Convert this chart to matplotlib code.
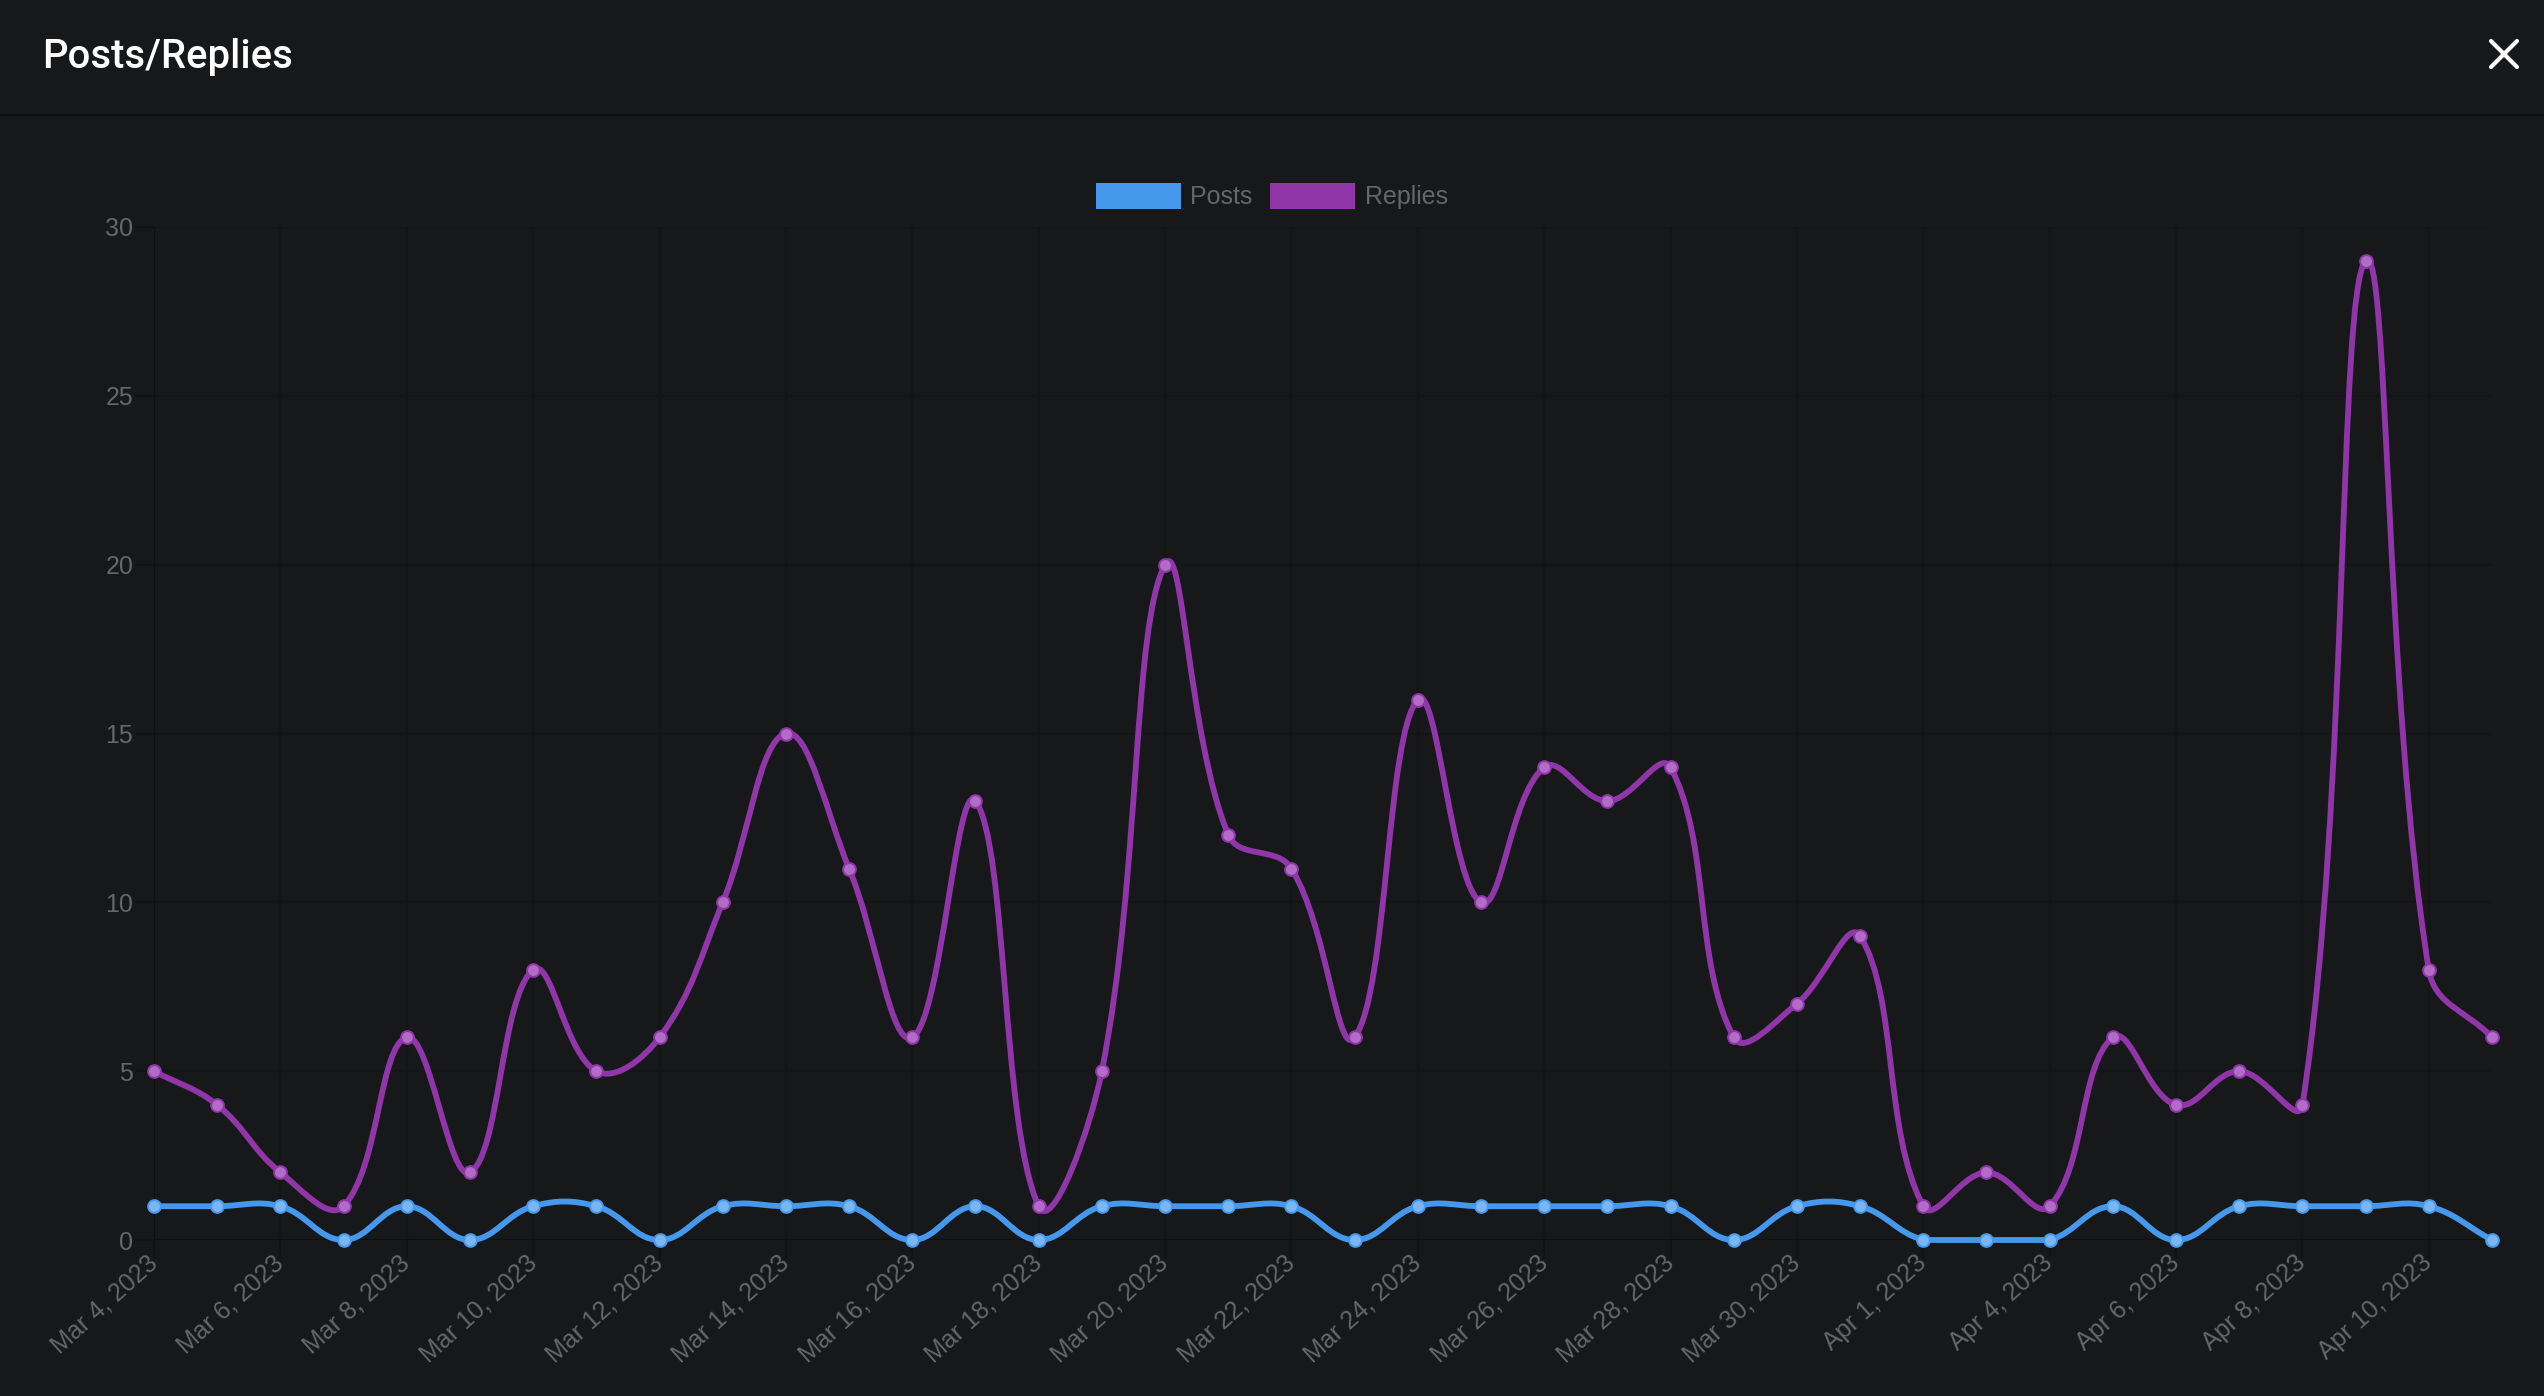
import numpy as np
import matplotlib
matplotlib.use("Agg")
import matplotlib.pyplot as plt
from matplotlib.path import Path
from matplotlib.patches import PathPatch, Patch
from matplotlib.lines import Line2D

# Category labels (one per day, Chart.js category axis)
dates = ([f"Mar {d}, 2023" for d in range(4, 32)]
         + ["Apr 1, 2023", "Apr 3, 2023"]
         + [f"Apr {d}, 2023" for d in range(4, 12)])

posts = [1, 1, 1, 0, 1, 0, 1, 1, 0, 1, 1, 1, 0, 1, 0, 1, 1, 1, 1, 0,
         1, 1, 1, 1, 1, 0, 1, 1, 0, 0, 0, 1, 0, 1, 1, 1, 1, 0]
replies = [5, 4, 2, 1, 6, 2, 8, 5, 6, 10, 15, 11, 6, 13, 1, 5, 20, 12, 11, 6,
           16, 10, 14, 13, 14, 6, 7, 9, 1, 2, 1, 6, 4, 5, 4, 29, 8, 6]

y_ticks = [0, 5, 10, 15, 20, 25, 30]

BG = "#17181a"
GRID = "#141517"
AXIS = "#0e0f11"
TICK = "#666666"
POSTS_C = "#4598ec"
POSTS_PT = "#7ab6f4"
REPLIES_C = "#9036a9"
REPLIES_PT = "#b26cc8"

W, H = 2544, 1396
fig = plt.figure(figsize=(W / 100, H / 100), dpi=100, facecolor=BG)

# plot area in pixels
left, right, top, bottom = 154, 2492, 227, 1240
ax = fig.add_axes([left / W, 1 - bottom / H, (right - left) / W, (bottom - top) / H])
ax.set_facecolor(BG)
n = len(dates)
ax.set_xlim(0, n - 1)
ax.set_ylim(0, 30)

for s in ax.spines.values():
    s.set_visible(False)

# grid (only at shown labels, as chart.js autoskip does)
shown = list(range(0, n, 2))
for i in shown[1:]:
    ax.axvline(i, color=GRID, lw=1.5, zorder=0)
for yv in y_ticks[1:]:
    ax.axhline(yv, color=GRID, lw=1.5, zorder=0)
ax.axvline(0, color=AXIS, lw=1.5, zorder=0)
ax.axhline(0, color=AXIS, lw=1.5, zorder=0)

ax.set_xticks(shown)
ax.set_xticklabels([dates[i] for i in shown])
ax.set_yticks(y_ticks)
ax.set_yticklabels([str(v) for v in y_ticks])
ax.tick_params(axis="both", colors="#111214", labelcolor=TICK, labelsize=18,
               length=14, width=1.5)
ax.tick_params(axis="y", pad=1)
ax.tick_params(axis="x", pad=0)
for lab in ax.get_xticklabels():
    lab.set_rotation(42)
    lab.set_ha("right")
    lab.set_va("center")
    lab.set_rotation_mode("anchor")
    lab.set_family("Liberation Sans")
for lab in ax.get_yticklabels():
    lab.set_family("Liberation Sans")


def spline_path(xs, ys, tension=0.4):
    # chart.js style spline, computed in pixel space, capped to chart area
    pts = ax.transData.transform(np.column_stack([xs, ys]))
    x0, y0 = ax.transData.transform((0, 0))
    x1, y1 = ax.transData.transform((n - 1, 30))
    prev_c, next_c = [], []
    for i in range(len(pts)):
        p = pts[i - 1] if i > 0 else pts[i]
        m = pts[i]
        a = pts[i + 1] if i < len(pts) - 1 else pts[i]
        d01 = np.hypot(*(m - p))
        d12 = np.hypot(*(a - m))
        tot = d01 + d12
        s01 = d01 / tot if tot else 0
        s12 = d12 / tot if tot else 0
        fa, fb = tension * s01, tension * s12
        pc = m - fa * (a - p)
        nc = m + fb * (a - p)
        for c in (pc, nc):
            c[0] = min(max(c[0], x0), x1)
            c[1] = min(max(c[1], y0), y1)
        prev_c.append(pc)
        next_c.append(nc)
    verts = [pts[0]]
    codes = [Path.MOVETO]
    for i in range(1, len(pts)):
        verts += [next_c[i - 1], prev_c[i], pts[i]]
        codes += [Path.CURVE4] * 3
    inv = ax.transData.inverted()
    return Path(inv.transform(np.array(verts)), codes)


xs = np.arange(n)
for vals, col, ptc, z in [(replies, REPLIES_C, REPLIES_PT, 3), (posts, POSTS_C, POSTS_PT, 5)]:
    ax.add_patch(PathPatch(spline_path(xs, vals), facecolor="none", edgecolor=col,
                           lw=4.2, zorder=z, clip_on=False, capstyle="round", joinstyle="round"))
    ax.plot(xs, vals, ls="none", marker="o", ms=9.2, mfc=ptc, mec=col, mew=1.4,
            zorder=z + 1, clip_on=False)

# legend
handles = [Patch(facecolor=POSTS_C, edgecolor="none", label="Posts"),
           Patch(facecolor=REPLIES_C, edgecolor="none", label="Replies")]
leg = fig.legend(handles=handles, loc="center", bbox_to_anchor=(0.5, 1 - 196 / H),
                 ncol=2, frameon=False, handlelength=3.4, handleheight=1.2,
                 handletextpad=0.4, columnspacing=0.7,
                 prop={"family": "Liberation Sans", "size": 18})
for t in leg.get_texts():
    t.set_color(TICK)

# header
fig.text(42 / W, 1 - 68 / H, "Posts/Replies", color="white", fontsize=28.8,
         family="Roboto", weight="medium", va="baseline", ha="left")
fig.add_artist(Line2D([0, 1], [1 - 115 / H, 1 - 115 / H], transform=fig.transFigure,
                      color="#0f1012", lw=1.6))
for (xa, ya, xb, yb) in [(2491, 41, 2517, 67), (2491, 67, 2517, 41)]:
    fig.add_artist(Line2D([xa / W, xb / W], [1 - ya / H, 1 - yb / H], transform=fig.transFigure,
                          color="white", lw=3.0, solid_capstyle="round"))

fig.savefig("out.png", dpi=100, facecolor=BG)
